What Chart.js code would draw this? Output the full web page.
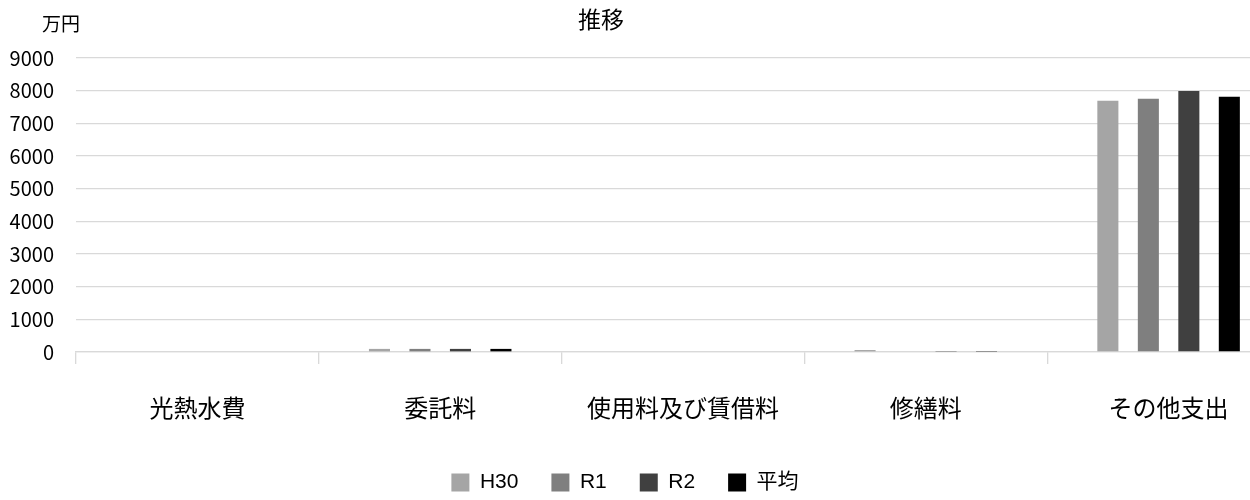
<!DOCTYPE html>
<html>
<head>
<meta charset="utf-8">
<script src="https://cdn.jsdelivr.net/npm/chart.js@4/dist/chart.umd.min.js"></script>
<style>
  html, body { margin: 0; padding: 0; background: #fff; overflow: hidden; width: 1250px; height: 500px; }
  #wrap { position: relative; width: 1300px; height: 503px; }
</style>
</head>
<body>
<div id="wrap"><canvas id="c"></canvas></div>
<script>
const categories = ['光熱水費', '委託料', '使用料及び賃借料', '修繕料', 'その他支出'];
const seriesNames = ['H30', 'R1', 'R2', '平均'];
const valuesH30 = [0, 95, 0, 60, 7690];
const valuesR1  = [0, 95, 0, 0, 7750];
const valuesR2  = [0, 95, 0, 30, 7990];
const valuesAvg = [0, 95, 0, 30, 7810];
const seriesColors = ['#a5a5a5', '#7f7f7f', '#404040', '#000000'];
const yTicks = [0, 1000, 2000, 3000, 4000, 5000, 6000, 7000, 8000, 9000];
const chartTitle = '推移';
const unitLabel = '万円';

const cjk = '"Noto Sans CJK JP", "Noto Sans", sans-serif';
const latin = '"Liberation Sans", "Noto Sans CJK JP", sans-serif';

const textPlugin = {
  id: 'textPlugin',
  afterLayout(chart) {
    chart.legend.left -= 20;
    chart.legend.right -= 20;
  },
  afterDraw(chart) {
    const ctx = chart.ctx;
    ctx.save();
    ctx.fillStyle = '#000';
    ctx.textAlign = 'center';
    ctx.textBaseline = 'middle';
    ctx.font = '23px ' + cjk;
    ctx.fillText(chartTitle, 601, 19);
    ctx.font = '19px ' + cjk;
    ctx.fillText(unitLabel, 61, 24);
    ctx.restore();
  }
};

const datasetValues = [valuesH30, valuesR1, valuesR2, valuesAvg];

new Chart(document.getElementById('c'), {
  type: 'bar',
  data: {
    labels: categories,
    datasets: seriesNames.map((name, i) => ({
      label: name,
      data: datasetValues[i],
      backgroundColor: seriesColors[i],
      borderWidth: 0,
      categoryPercentage: 0.667,
      barPercentage: 0.52
    }))
  },
  options: {
    responsive: true,
    maintainAspectRatio: false,
    animation: false,
    layout: { padding: { top: 58, left: 0, right: 10, bottom: 0 } },
    plugins: {
      title: { display: false },
      tooltip: { enabled: false },
      legend: {
        position: 'bottom',
        labels: {
          boxWidth: 18,
          boxHeight: 18,
          padding: 33,
          color: '#000',
          font: { size: 21, family: latin }
        }
      }
    },
    scales: {
      x: {
        afterFit(scale) { scale.height = 87; },
        grid: {
          offset: true,
          drawOnChartArea: false,
          drawTicks: true,
          tickLength: 12,
          color: '#d9d9d9',
          lineWidth: 1.33
        },
        border: { display: true, color: '#d9d9d9', width: 1.33 },
        ticks: {
          color: '#000',
          padding: 29,
          maxRotation: 0,
          autoSkip: false,
          font: { size: 24, family: cjk }
        }
      },
      y: {
        min: 0,
        max: 9000,
        afterFit(scale) { scale.width = 76; },
        afterBuildTicks(scale) { scale.ticks = yTicks.map(v => ({ value: v })); },
        grid: { color: '#d9d9d9', lineWidth: 1.33, drawTicks: false },
        border: { display: false },
        ticks: {
          color: '#000',
          padding: 22,
          font: { size: 20, family: cjk },
          callback: (v) => String(v)
        }
      }
    }
  },
  plugins: [textPlugin]
});
</script>
</body>
</html>
